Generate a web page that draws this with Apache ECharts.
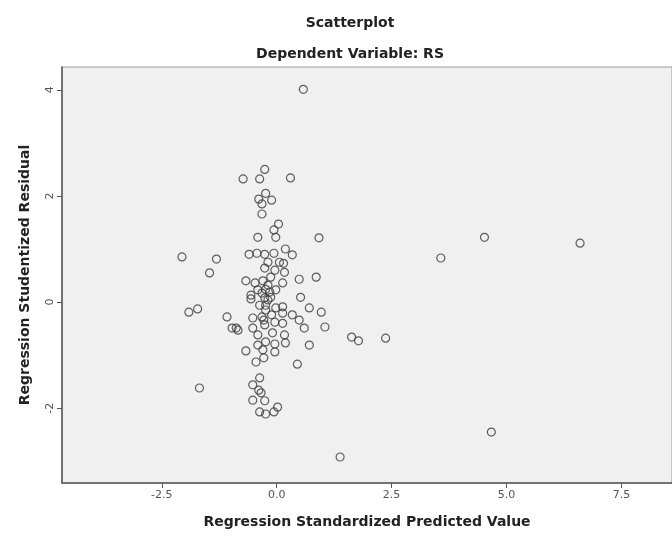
<!DOCTYPE html>
<html>
<head>
<meta charset="utf-8">
<script src="https://cdn.jsdelivr.net/npm/echarts@6/dist/echarts.min.js"></script>
<style>
  html, body { margin: 0; padding: 0; background: #fff; }
  #chart { width: 672px; height: 536px; }
</style>
</head>
<body>
<div id="chart"></div>
<script>
// predicted value (x) and studentized residual (y)
const predicted = [
  0.58, -0.26, -0.73, -0.37, 0.30, -0.24, -0.39, -0.11, -0.32, -0.32,
  0.04, -0.06, -0.02, -0.41, 0.92, -2.06, -1.31, -1.46, -0.60, -0.43,
  -0.26, -0.06, 0.19, 0.34, -0.19, 0.06, -0.26, -0.04, 0.17, 0.49,
  -0.67, -0.47, -0.30, -0.13, 0.13, -0.41, -0.24, -0.02, -0.56, -0.32,
  0.52, -0.26, -0.13, 0.86, -0.56, -0.24, -0.02, 0.13, 0.71, -0.52,
  -0.32, -0.11, 0.13, 0.34, 0.49, -0.88, -0.52, -0.26, -0.04, 0.13,
  0.60, -0.41, -0.09, 0.17, -0.41, -0.24, -0.04, 0.19, 0.71, -0.67,
  -0.30, -0.04, -0.45, -0.28, 0.45, -0.37, -0.52, -0.39, -0.34, -0.52,
  -0.26, -0.37, -0.24, -0.06, 0.02, 0.97, 1.05, 1.63, 1.78, -1.91,
  -1.72, -1.08, -0.97, -0.84, 4.52, 6.60, 3.57, 2.37, 4.67, 1.38,
  -1.68, 0.15, -0.19, -0.24, -0.28, -0.19, -0.37, -0.15
];
const residual = [
  4.01, 2.50, 2.32, 2.32, 2.34, 2.05, 1.94, 1.92, 1.85, 1.66,
  1.47, 1.36, 1.22, 1.22, 1.21, 0.85, 0.81, 0.55, 0.90, 0.92,
  0.90, 0.92, 1.00, 0.89, 0.75, 0.75, 0.64, 0.60, 0.56, 0.43,
  0.40, 0.36, 0.40, 0.47, 0.36, 0.23, 0.24, 0.23, 0.13, 0.17,
  0.09, 0.08, 0.09, 0.47, 0.06, -0.06, -0.11, -0.09, -0.11, -0.30,
  -0.28, -0.24, -0.21, -0.24, -0.34, -0.49, -0.49, -0.43, -0.38, -0.40,
  -0.49, -0.62, -0.58, -0.62, -0.81, -0.75, -0.79, -0.77, -0.81, -0.92,
  -0.90, -0.94, -1.13, -1.05, -1.17, -1.43, -1.56, -1.66, -1.71, -1.85,
  -1.86, -2.07, -2.11, -2.07, -1.98, -0.19, -0.47, -0.66, -0.73, -0.19,
  -0.13, -0.28, -0.49, -0.53, 1.22, 1.11, 0.83, -0.68, -2.45, -2.92,
  -1.62, 0.73, 0.32, -0.15, -0.34, 0.04, -0.06, 0.19
];
const xTicks = [-2.5, 0, 2.5, 5, 7.5];
const yTicks = [-2, 0, 2, 4];

const points = predicted.map((x, i) => [x, residual[i]]);

const chart = echarts.init(document.getElementById('chart'));
const font = '"DejaVu Sans", "Liberation Sans", sans-serif';

chart.setOption({
  animation: false,
  backgroundColor: '#ffffff',
  title: [
    {
      text: 'Scatterplot',
      left: 345, top: 11, textAlign: 'center',
      textStyle: { fontFamily: font, fontSize: 14, fontWeight: 'bold', color: '#222' }
    },
    {
      text: 'Dependent Variable: RS',
      left: 345, top: 42, textAlign: 'center',
      textStyle: { fontFamily: font, fontSize: 14, fontWeight: 'bold', color: '#222' }
    }
  ],
  grid: {
    left: 62, top: 67, width: 617, height: 416,
    show: true, backgroundColor: '#f0f0f0', borderColor: '#9a9a9a', borderWidth: 1
  },
  xAxis: {
    type: 'value',
    min: -4.67, max: 8.6,
    name: 'Regression Standardized Predicted Value',
    nameLocation: 'middle', nameGap: 32,
    nameTextStyle: { fontFamily: font, fontSize: 14, fontWeight: 'bold', color: '#222' },
    axisLine: { onZero: false, lineStyle: { color: '#555', width: 1.5 } },
    axisTick: { customValues: xTicks, length: 5, lineStyle: { color: '#555' } },
    axisLabel: {
      customValues: xTicks,
      formatter: v => v.toFixed(1),
      fontFamily: font, fontSize: 11, color: '#555', margin: 7
    },
    splitLine: { show: false }
  },
  yAxis: {
    type: 'value',
    min: -3.41, max: 4.43,
    name: 'Regression Studentized Residual',
    nameLocation: 'middle', nameGap: 30,
    nameTextStyle: { fontFamily: font, fontSize: 14, fontWeight: 'bold', color: '#222' },
    axisLine: { onZero: false, lineStyle: { color: '#555', width: 1.5 } },
    axisTick: { customValues: yTicks, length: 5, lineStyle: { color: '#555' } },
    axisLabel: {
      customValues: yTicks,
      rotate: 90,
      fontFamily: font, fontSize: 11, color: '#555', margin: 6
    },
    splitLine: { show: false }
  },
  series: [{
    type: 'scatter',
    data: points,
    symbol: 'circle',
    symbolSize: 8,
    itemStyle: { color: 'rgba(0,0,0,0)', borderColor: '#3a3a3a', borderWidth: 1.2 },
    emphasis: { disabled: true }
  }]
});
</script>
</body>
</html>
